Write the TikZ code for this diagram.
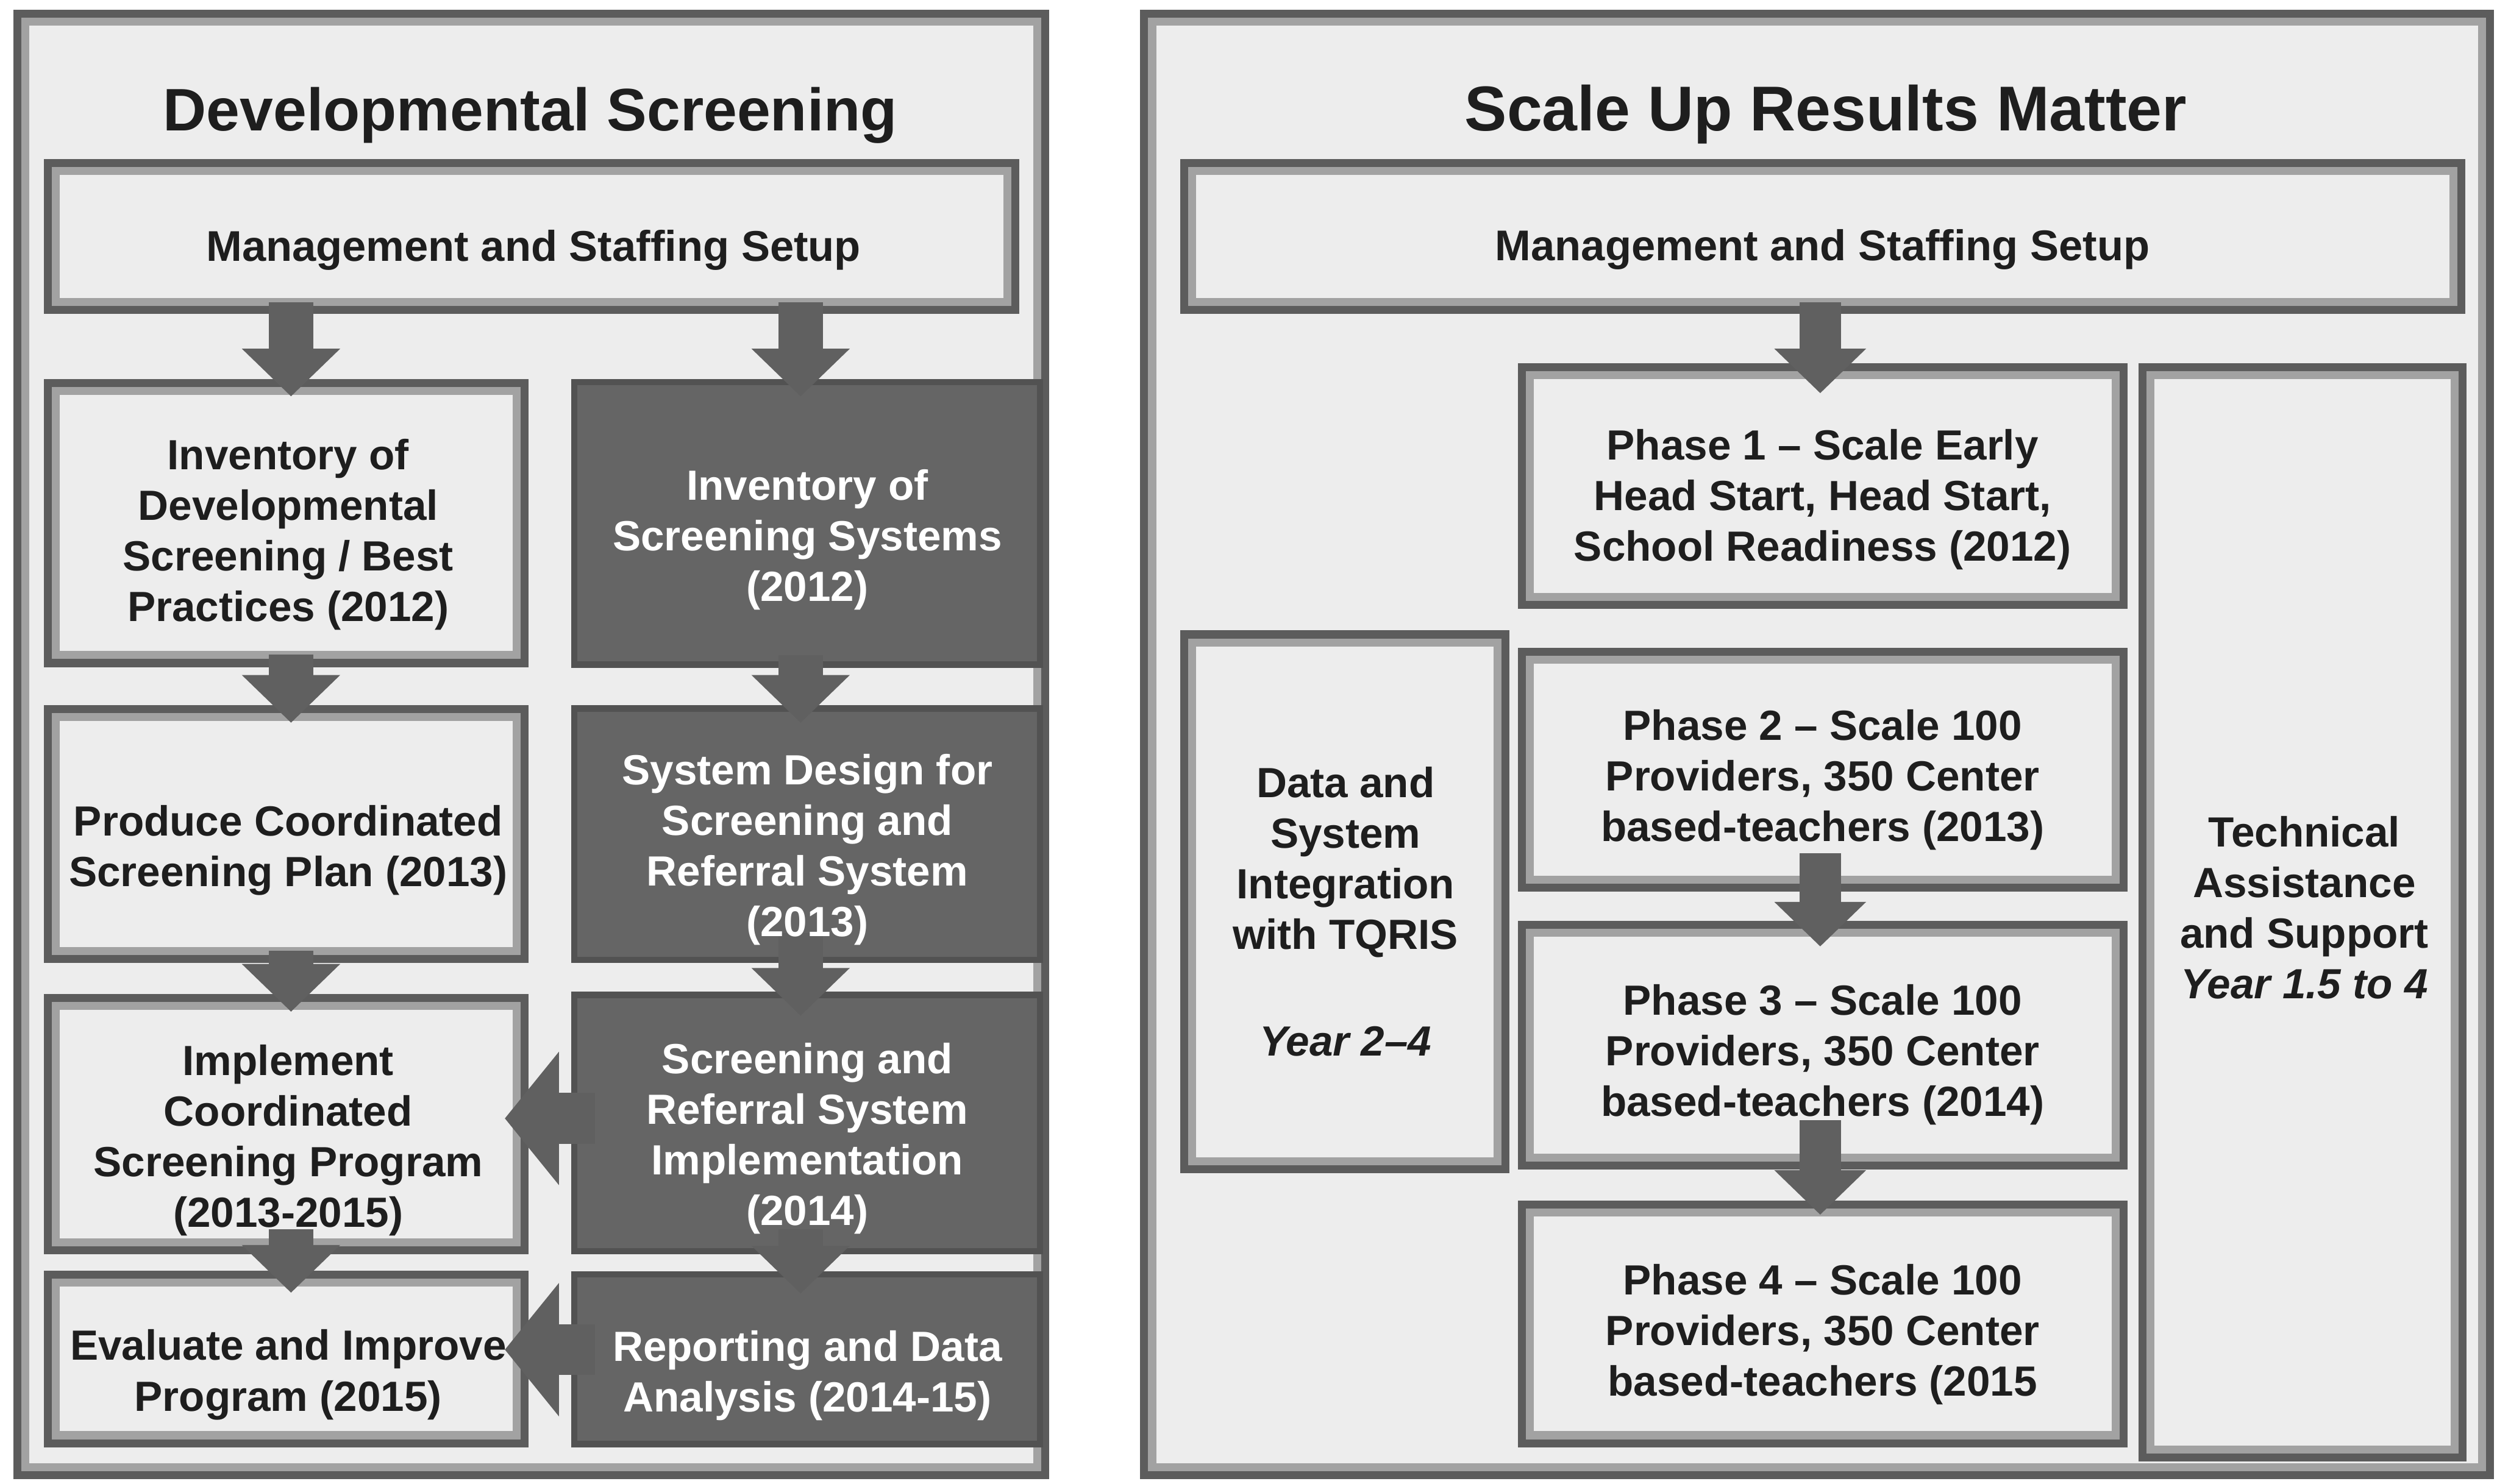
\documentclass[tikz,border=0pt]{standalone}
\usepackage{fontspec}
\setmainfont{Liberation Sans}
\usetikzlibrary{arrows.meta,calc}

\definecolor{panelbg}{HTML}{EDEDED}
\definecolor{rimdark}{HTML}{5C5C5C}
\definecolor{rimlight}{HTML}{A2A2A2}
\definecolor{darkfill}{HTML}{656565}
\definecolor{darkrim}{HTML}{525252}
\definecolor{arrowc}{HTML}{606060}
\definecolor{ink}{HTML}{1E1E1E}

\tikzset{
  framed/.style={draw=rimdark, line width=5pt, fill=panelbg, inner sep=0pt,
    path picture={\draw[rimlight, line width=15pt]
      (path picture bounding box.south west) rectangle (path picture bounding box.north east);}},
  darkbox/.style={draw=darkrim, line width=4pt, fill=darkfill, inner sep=0pt},
  ttl/.style={font=\bfseries, inner sep=0pt, text=ink, anchor=base},
  txt/.style={font=\fontsize{26.5}{31.8}\selectfont\bfseries, align=center, inner sep=0pt,
    text=ink, anchor=north},
  wtxt/.style={txt, text=white},
  downL/.style={draw=arrowc, line width=28pt, -{Triangle[length=30pt, width=60pt]}},
  downR/.style={draw=arrowc, line width=26pt, -{Triangle[length=28pt, width=56pt]}},
  leftA/.style={draw=arrowc, line width=32pt, -{Triangle[length=34pt, width=82pt]}},
}

\begin{document}
\begin{tikzpicture}[x=1pt,y=-1pt]
\useasboundingbox (0,0) rectangle (1568,932);

% ---------- panels ----------
\node[framed, minimum width=645.5pt, minimum height=918pt] (pl) at (333.75,467.5) {};
\node[framed, minimum width=845pt, minimum height=918pt] (pr) at (1141,467.5) {};

\node[ttl, font=\fontsize{37.7}{44}\selectfont\bfseries] (tl) at (333,82) {Developmental Screening};
\node[ttl, font=\fontsize{39.8}{46}\selectfont\bfseries] (tr) at (1146.5,82) {Scale Up Results Matter};

% ---------- left panel boxes ----------
\node[framed, minimum width=607.5pt, minimum height=92pt] (mgL) at (333.75,148.5) {};
\node[framed, minimum width=299.5pt, minimum height=176pt] (a1) at (179.75,328.5) {};
\node[framed, minimum width=299.5pt, minimum height=157pt] (a2) at (179.75,524) {};
\node[framed, minimum width=299.5pt, minimum height=158.5pt] (a3) at (179.75,706.25) {};
\node[framed, minimum width=299.5pt, minimum height=106pt] (a4) at (179.75,853.5) {};
\node[darkbox, minimum width=292.5pt, minimum height=177.5pt] (b1) at (506.75,328.75) {};
\node[darkbox, minimum width=292.5pt, minimum height=158pt] (b2) at (506.75,524) {};
\node[darkbox, minimum width=292.5pt, minimum height=161pt] (b3) at (506.75,705.5) {};
\node[darkbox, minimum width=292.5pt, minimum height=106.5pt] (b4) at (506.75,853.75) {};

% ---------- right panel boxes ----------
\node[framed, minimum width=802pt, minimum height=92pt] (mgR) at (1144.5,148.5) {};
\node[framed, minimum width=378pt, minimum height=149.5pt] (p1) at (1144.5,305.25) {};
\node[framed, minimum width=378pt, minimum height=148pt] (p2) at (1144.5,483.5) {};
\node[framed, minimum width=378pt, minimum height=151pt] (p3) at (1144.5,656.5) {};
\node[framed, minimum width=378pt, minimum height=150pt] (p4) at (1144.5,831.5) {};
\node[framed, minimum width=202pt, minimum height=336pt] (data) at (844.5,566.5) {};
\node[framed, minimum width=201pt, minimum height=685pt] (tech) at (1446,573) {};

% ---------- block arrows ----------
\draw[downL] ($(mgL.south -| a1.north)+(3pt,7pt)$) -- ($(a1.north)+(3pt,-11pt)$);
\draw[downL] ($(mgL.south -| b1.north)+(-4pt,7pt)$) -- ($(b1.north)+(-4pt,-11pt)$);
\draw[downL] ($(a1.south)+(3pt,8pt)$) -- ($(a2.north)+(3pt,-11pt)$);
\draw[downL] ($(b1.south)+(-4pt,8pt)$) -- ($(b2.north)+(-4pt,-11pt)$);
\draw[downL] ($(a2.south)+(3pt,8pt)$) -- ($(a3.north)+(3pt,-11pt)$);
\draw[downL] ($(b2.south)+(-4pt,19pt)$) -- ($(b3.north)+(-4pt,-15pt)$);
\draw[downL] ($(a3.south)+(3pt,16pt)$) -- ($(a4.north)+(3pt,-14pt)$);
\draw[downL] ($(b3.south)+(-4pt,16pt)$) -- ($(b4.north)+(-4pt,-14pt)$);
\draw[leftA] ($(b3.west)+(15pt,3pt)$) -- ($(b3.west -| a3.east)+(-15pt,3pt)$);
\draw[leftA] ($(b4.west)+(15pt,6pt)$) -- ($(b4.west -| a4.east)+(-15pt,6pt)$);

\draw[downR] ($(mgR.south -| p1.north)+(-1.5pt,7pt)$) -- ($(p1.north)+(-1.5pt,-19pt)$);
\draw[downR] ($(p2.south)+(-1.5pt,24pt)$) -- ($(p3.north)+(-1.5pt,-16pt)$);
\draw[downR] ($(p3.south)+(-1.5pt,31pt)$) -- ($(p4.north)+(-1.5pt,-9pt)$);

% ---------- labels ----------
\node[txt, anchor=base, font=\fontsize{27}{32}\selectfont\bfseries] (mgLt) at (335,164) {Management and Staffing Setup};
\node[txt, anchor=base, font=\fontsize{27}{32}\selectfont\bfseries] (mgRt) at (1144.5,163.5) {Management and Staffing Setup};

\node[txt] (a1t) at (181,275.5) {Inventory of\\Developmental\\Screening / Best\\Practices (2012)};
\node[txt] (a2t) at (181,505.5) {Produce Coordinated\\Screening Plan (2013)};
\node[txt] (a3t) at (181,656) {Implement\\Coordinated\\Screening Program\\(2013-2015)};
\node[txt] (a4t) at (181,835) {Evaluate and Improve\\Program (2015)};

\node[wtxt] (b1t) at (507,294.5) {Inventory of\\Screening Systems\\(2012)};
\node[wtxt] (b2t) at (507,473.5) {System Design for\\Screening and\\Referral System\\(2013)};
\node[wtxt] (b3t) at (507,655) {Screening and\\Referral System\\Implementation\\(2014)};
\node[wtxt] (b4t) at (507,835.5) {Reporting and Data\\Analysis (2014-15)};

\node[txt] (p1t) at (1144.5,269.3) {Phase 1 – Scale Early\\Head Start, Head Start,\\School Readiness (2012)};
\node[txt] (p2t) at (1144.5,445.5) {Phase 2 – Scale 100\\Providers, 350 Center\\based-teachers (2013)};
\node[txt] (p3t) at (1144.5,618) {Phase 3 – Scale 100\\Providers, 350 Center\\based-teachers (2014)};
\node[txt] (p4t) at (1144.5,794) {Phase 4 – Scale 100\\Providers, 350 Center\\based-teachers (2015};

\node[txt] (datat) at (845,481.5) {Data and\\System\\Integration\\with TQRIS\\[35pt]{\itshape Year 2–4}};
\node[txt] (techt) at (1447,512.5) {Technical\\Assistance\\and Support\\{\itshape Year 1.5 to 4}};

\end{tikzpicture}
\end{document}
